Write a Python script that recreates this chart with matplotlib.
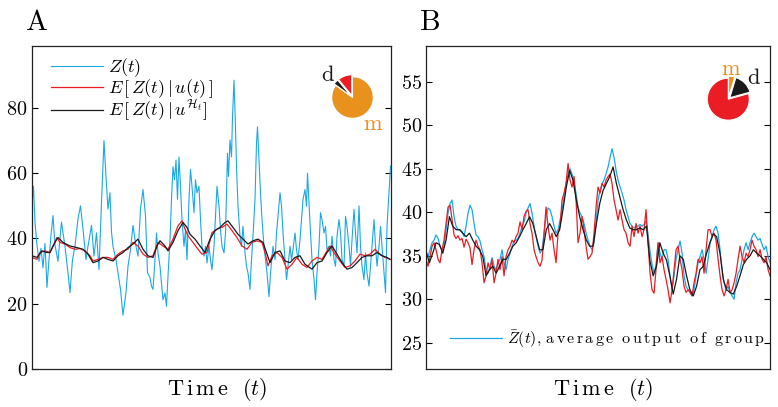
import numpy as np
import matplotlib.pyplot as plt

plt.rcParams['font.family'] = 'cmr10'
plt.rcParams['mathtext.fontset'] = 'cm'
plt.rcParams['axes.formatter.use_mathtext'] = True

# ---- panel A data (time in arbitrary units, 0..359) ----
a_blue_t = [0.5, 1.5, 3, 5, 7, 9, 11, 13, 15, 17, 19, 21, 23, 26, 29.5, 33, 36, 38, 40.5, 43,
            46, 48.5, 51, 54, 56, 59.5, 62, 64.5, 67, 69.5, 72, 74, 76, 78, 79.5, 81, 84, 86, 88.5, 91,
            94, 96, 98.5, 101, 104, 106, 108.5, 111, 113.5, 115.5, 118,
            119.5, 121, 123, 124.5, 126, 128, 129.5, 131, 133, 134.5, 136, 138, 139.5, 141, 142.5, 144,
            145.5, 147, 148.5, 150, 152, 153.5, 155, 157, 158.5, 160, 162, 163.5, 165, 167, 168.5, 170,
            172, 173.5, 175, 177, 178.5, 180, 182, 183.5, 185, 187, 188.5, 190, 192, 193.5, 195.5, 196.5,
            198, 199.5, 200.5, 202, 203.5, 204.5, 206, 208, 209.5, 211, 213, 214.5, 216, 218, 219.5, 221,
            223, 224.5, 225.5, 227, 228.5, 230, 232, 233.5, 235, 237, 238.5,
            241, 243, 244.5, 246, 248, 249.5, 251, 253, 254.5, 256, 258, 259.5, 261, 263, 264.5, 266,
            268, 269.5, 271, 273, 274.5, 275.5, 277, 278.5, 280, 282, 283.5, 285, 287, 288.5, 290, 292,
            293.5, 295, 297, 298.5, 300, 302, 303.5, 305, 307, 308.5, 310, 312, 313.5, 315, 317, 318.5,
            320, 322, 323.5, 325, 327, 328.5, 330, 332, 333.5, 335, 337, 338.5, 340, 342, 343.5, 345,
            347, 348.5, 350, 352, 353.5, 355, 357, 358.5]
a_blue = [52, 56, 45, 38, 33, 37, 31, 38.5, 25, 33.5, 41, 47, 38, 33, 45, 37.6, 29.5, 23.4, 33.5, 37.6,
          46, 50, 43, 33.5, 37.6, 44, 34.6, 41.7, 30.5, 51, 70, 59, 49, 54, 42, 37.6, 33.5, 29.5, 24.4, 16.5,
          23.4, 31.5, 36.6, 44, 37.6, 34.6, 49, 55, 47, 29.5, 28,
          25.4, 24.4, 33.5, 41.7, 35.6, 31.5, 26.4, 21.2, 23.3, 19.2, 28.4, 39.6, 52, 62, 58, 64,
          52, 65, 56, 45.8, 37.6, 42.7, 33.5, 52, 61.2, 56, 47.9, 58, 54, 56, 45.8, 37.6,
          34.6, 37.6, 32.5, 37.6, 33.5, 30.4, 37.6, 46.8, 56, 49.9, 42.7, 37.6, 35.6, 41.7, 66.1, 59,
          70.2, 65, 77.3, 88.5, 74.2, 61.9, 49.9, 40.7, 37.6, 43.7, 35.6, 31.5, 29.4, 24.4, 33.5, 40.7,
          52, 69.2, 74.2, 64, 54, 45.8, 37.6, 33.5, 29.4, 22.2, 29.4,
          37.6, 33.5, 41.7, 46.8, 54, 49.9, 41.7, 33.5, 27.4, 31.5, 37.6, 33.5, 36.6, 41.7, 36.6, 33.5,
          39.6, 45.8, 52, 55, 49.9, 60, 50.9, 41.7, 33.5, 27.4, 21.2, 29.4, 37.6, 47.9, 45.8, 41.7,
          43.7, 36.6, 37.6, 34.6, 40.7, 33.5, 31.5, 40.7, 45.8, 41.7, 33.5, 31.5, 46.8, 43.7, 37.6, 31.5,
          39.6, 48.9, 41.7, 35.6, 50, 37.6, 31.5, 27.4, 35.6, 29.4, 25.4, 31.5, 37.6, 45.8, 37.6, 31.5,
          37.6, 43.7, 37.6, 29.4, 23.4, 43.7, 54, 62.2]

a_red_t = [0, 5, 8, 13, 18, 21, 25, 28, 33, 38, 43, 48, 53, 58, 61, 66, 71, 76, 81, 86,
           91, 96, 101, 106, 111, 116, 121, 126, 131, 136, 141, 146, 150, 153, 156, 161, 166, 170, 175, 180,
           185, 190, 195, 200, 205, 210, 215, 220, 225, 230, 233, 236, 240, 245, 250, 255, 260, 265, 270, 275,
           280, 285, 290, 295, 298, 303, 308, 313, 318, 323, 328, 333, 338, 343, 348, 353, 358]
a_red = [34.2, 33.6, 35.7, 36.2, 35.7, 37.7, 40.3, 38.8, 38.3, 37.2, 36.7, 36.9, 36.2, 34.7, 33.1, 33.6,
         34.2, 34.2, 33.6, 35.2, 36.2, 36.7, 38.8, 37.7, 35.2, 34.2, 34.7, 38.8, 37.7, 36.7, 39.8, 43.9,
         45.4, 42.9, 40.8, 38.8, 36.7, 35.2, 35.7, 41.8, 42.9, 43.4, 44.4, 42.4, 40.3, 37.7, 36.7, 38.8,
         39.3, 38.8, 35.7, 31.6, 34.7, 35.7, 34.2, 30.6, 32.1, 34.2, 32.1, 31.1, 33.1, 34.2, 33.6, 36.2,
         37.7, 35.2, 33.1, 31.1, 31.6, 33.1, 35.2, 34.7, 35.2, 36.7, 35.2, 34.2, 33.6]

a_black_t = [0, 5, 10, 15, 18, 23, 26, 31, 38, 45, 51, 56, 61, 66, 71, 76, 81, 86, 91, 96,
             101, 106, 111, 116, 121, 125, 128, 133, 136, 141, 146, 151, 155, 158, 163, 168, 173, 178, 183, 188,
             193, 196, 201, 206, 211, 216, 221, 226, 231, 235, 238, 243, 248, 253, 258, 263, 268, 273, 280, 285,
             290, 295, 300, 305, 310, 315, 320, 325, 330, 335, 340, 345, 350, 355, 358]
a_black = [34.7, 34.2, 36.2, 35.7, 35.7, 38.8, 40.3, 38.8, 37.7, 37.2, 36.7, 35.2, 32.6, 33.1, 34.2, 33.6,
           33.1, 34.7, 35.7, 37.2, 38.3, 39.8, 36.7, 34.7, 34.2, 37.7, 39.3, 37.7, 36.2, 38.8, 42.4, 44.9,
           43.4, 41.3, 39.8, 37.7, 35.7, 39.8, 42.4, 43.4, 44.9, 45.4, 43.4, 41.3, 39.8, 38.3, 39.3, 39.8,
           38.8, 35.2, 32.6, 35.7, 36.2, 33.1, 32.6, 34.2, 34.7, 32.1, 30.6, 32.6, 33.1, 35.7, 37.7, 35.2,
           32.6, 30.6, 31.1, 32.6, 34.2, 34.7, 34.7, 35.7, 34.7, 34.2, 33.6]

# ---- panel B data (evenly sampled over the window) ----
b_blue = [35.5, 34.9, 35.7, 36.5, 36.8, 37.4, 37, 36.1, 35.7, 36.1, 38, 39.9, 41, 41.4, 39.5, 38.4, 38, 38,
          37.8, 37.2, 38.4, 39.9, 40.8, 40.3, 38.7, 37.4, 37.2, 36.7, 35.7, 34.9, 33.4, 33, 33.8, 34.8, 33.8,
          33.4, 34.2, 34.6, 35.7, 34.2, 33.4, 34.6, 35.3, 36.1, 36.7, 36.8, 37, 37.6, 38.4, 38.9, 39.9, 40.5,
          41, 39.9, 38.4, 37.2, 36.1, 35.3,
          35.7, 37.6, 39.5, 40.5, 40.3, 39.5, 38.4, 37.6, 38, 39.1, 40.3, 41.8, 43.3, 44.4, 45, 44.4, 43.3,
          42.2, 40.6, 39.9, 39.5, 38.7, 37.6, 36.8, 36.1, 35.7, 36.5, 38.7, 41.4, 42.5, 43.3, 43.7, 44.4,
          45.2, 46.3, 47.3, 46.3, 44.8, 43.7, 42.9, 42.2, 41.4, 40.3, 39.5, 38.7, 38.4, 38.2, 38.4, 38.4,
          38.6, 38.4, 38.6, 39, 37.5, 35.5, 34, 33, 34,
          36.5, 35.3, 34.6, 35.7, 35.7, 34.6, 32.7, 31.1, 32.7, 34.6, 35.7, 36.7, 35.3, 32.7, 31.5, 31.1,
          30.8, 30.4, 31.1, 32.7, 34.2, 34.9, 35.7, 34.6, 33, 34.6, 36.5, 37.2, 38, 38.4, 37.6, 35.7, 33.4,
          31.9, 31.1, 31.5, 30.8, 30.4, 30, 31.9, 33, 33.4, 34.6, 35.7, 36.5, 35.7, 36.5, 37.2, 37.6, 37.2,
          36.8, 37, 36.3, 35.7, 36.1, 34.9, 34.2]
b_red = [34.6, 33.8, 34.9, 36.1, 36.5, 35.7, 34.6, 34.2, 35.7, 36.8, 38.7, 40.6, 40.8, 39.2, 37.4, 37,
         37.3, 36.8, 37, 36, 36.9, 36.5, 35.9, 34, 35.7, 36.8, 36.1, 35.7, 34.2, 31.9, 32.7, 34.2, 33.4,
         34.6, 31.9, 33, 34.6, 33.4, 34.9, 32.7, 34.9, 35.7, 36.1, 36.8, 36.5, 37.2, 37.6, 38.9, 38, 39.5,
         40.1, 40.3, 38.7, 37.6, 35.7, 34.9, 34.2, 33.8,
         34.5, 37.6, 40.6, 38.4, 36.8, 37.6, 35.7, 34.2, 37.6, 38.4, 41.4, 42.2, 43.3, 45.6, 43.7, 42.9,
         44.1, 41.4, 36.5, 37.6, 39.5, 38, 36.1, 34.6, 34.9, 35.3, 37.6, 40.6, 42.9, 42.2, 43.3, 42.9, 43.7,
         44.1, 44.4, 43.3, 41.4, 40.3, 39.1, 40.3, 39.1, 38, 37.6, 36.5, 36.1, 38.4, 37.2, 38.7, 37.6, 38.4,
         37.2, 38, 40.3, 36.5, 33, 31.1, 30.7, 33.5,
         36.5, 34.2, 34.9, 33.4, 32.3, 31.1, 29.6, 31.1, 33.4, 35.7, 36.1, 34.6, 33.4, 31.5, 30.8, 31.1,
         30.8, 30.4, 31.9, 33, 34.6, 34.2, 34.9, 33, 35.7, 38, 38, 37.2, 37.6, 36.8, 34.6, 32.7, 31.1, 30.4,
         31.1, 32.3, 30.8, 31.1, 31.9, 33, 34.6, 36.1, 34.9, 34.2, 35.3, 34.9, 35.7, 36.8, 36.1, 35.7, 34.9,
         35.7, 34.6, 34.2, 34.9, 33.4, 32.7]
b_black = [35.5, 34.2, 35.3, 36.5, 36.3, 35.3, 36.8, 39.5, 38.4, 38, 38, 37.6, 37.2, 37.6, 36.8, 36.1,
           35.7, 34.9, 32.7, 33.4, 33.8, 33, 33.8, 34.6, 34.6, 35.3, 36.1, 36.5, 37.2, 38, 38.7, 39.5, 38.7,
           37.2, 35.7,
           35.7, 38, 38.7, 38, 37.2, 38, 40.3, 42.9, 44.8, 43.7, 41.4, 39.5, 38, 36.8, 36.1, 36.1, 38.7, 41,
           42.5, 43.3, 44.1, 45.2, 43.3, 41.8, 40.3, 39.1, 38.2, 38, 38, 38.2, 38, 38.4, 34.5, 32.7, 33.8,
           36.5, 35.3, 34.5, 32.7, 30.6, 32.3, 35, 34.6, 32.7, 31.1, 30.4, 31.5, 33.4, 33.8, 35.3, 36.5, 37.5,
           37.2, 35.3, 32.3, 31.1, 30.8, 30.6, 31.5, 32.7, 34, 34.6, 35, 35.7, 35.3, 35, 34.6, 34.2, 33.4]

# pie shares, clockwise from the top: m, d, rest
pie_a = [85, 4, 11]
pie_b = [4.7, 16, 79.3]

blue = '#1aa9e6'
red = '#ea1d25'
black = '#1a1a1a'
orange = '#e8911c'

fig = plt.figure(figsize=(7.78, 4.07), dpi=100)
axA = fig.add_axes([0.0411, 0.0934, 0.4615, 0.7936])
axB = fig.add_axes([0.5476, 0.0934, 0.4422, 0.7936])

axA.plot(a_blue_t, a_blue, color=blue, lw=0.8, label='$Z(t)$')
axA.plot(a_red_t, a_red, color=red, lw=0.9, label=r'$E\,[\,Z(t)\,|\,u(t)\,]$')
axA.plot(a_black_t, a_black, color=black, lw=0.9, label=r'$E\,[\,Z(t)\,|\,u^{\mathcal{H}_t}]$')
axA.set_xlim(0, 359)
axA.set_ylim(0, 99)
axA.set_yticks([0, 20, 40, 60, 80])

# letter-spaced legend text, as in the original figure
spaced = r'$\;$ '.join(r'$\,$'.join(w) for w in ['average', 'output', 'of', 'group'])
tb = np.linspace(0, 1, len(b_blue))
axB.plot(tb, b_blue, color=blue, lw=0.9, label=r'$\bar{Z}(t)$, ' + spaced)
axB.plot(np.linspace(0, 1, len(b_red)), b_red, color=red, lw=0.9)
axB.plot(np.linspace(0, 1, len(b_black)), b_black, color=black, lw=0.9)
axB.set_xlim(0, 1)
axB.set_ylim(22, 59.1)
axB.set_yticks([25, 30, 35, 40, 45, 50, 55])

for ax in (axA, axB):
    ax.set_xticks([])
    ax.tick_params(axis='y', direction='in', length=4, right=True, labelsize=14.5, width=0.8, pad=3)
    for s in ax.spines.values():
        s.set_linewidth(0.9)
        s.set_color('#222222')
    ax.set_xlabel(r'T$\,$i$\,$m$\,$e  $(t)$', fontsize=16, labelpad=5)
    ax.xaxis.set_label_coords(0.515, -0.022, transform=ax.transAxes)
    ax.xaxis.label.set_va('top')

axA.legend(loc='upper left', bbox_to_anchor=(0.033, 0.99), frameon=False, fontsize=13,
           handlelength=2.9, handletextpad=0.25, labelspacing=-0.12, borderaxespad=0)
axB.legend(loc='lower left', bbox_to_anchor=(0.05, 0.04), frameon=False, fontsize=11.5,
           handlelength=3.3, handletextpad=0.3, borderaxespad=0)

fig.text(26 / 778, 1 - 30 / 407, 'A', fontsize=21, va='baseline')
fig.text(420 / 778, 1 - 30 / 407, 'B', fontsize=21, va='baseline')

# pie insets
def pie_inset(cx, cy, r, sizes, explode, labels):
    h = 1.3 * r
    pax = fig.add_axes([(cx - h) / 778, (407 - cy - h) / 407, 2 * h / 778, 2 * h / 407])
    pax.pie(sizes, colors=[orange, black, red], startangle=90, counterclock=False,
            explode=explode, wedgeprops=dict(edgecolor='white', linewidth=0.8))
    pax.set_xlim(-1.3, 1.3)
    pax.set_ylim(-1.3, 1.3)
    pax.axis('off')
    for txt, x, y, c in labels:
        pax.text(x, y, txt, color=c, fontsize=16, ha='center', va='center')

pie_inset(352.5, 97.5, 20.8, pie_a, [0, 0.1, 0.1],
          [('d', -1.2, 1.08, black), ('m', 0.95, -1.3, orange)])
pie_inset(728.3, 99.2, 21, pie_b, [0.1, 0.1, 0],
          [('m', 0.13, 1.42, orange), ('d', 1.2, 1.0, black)])

fig.savefig('out.png', dpi=100)
